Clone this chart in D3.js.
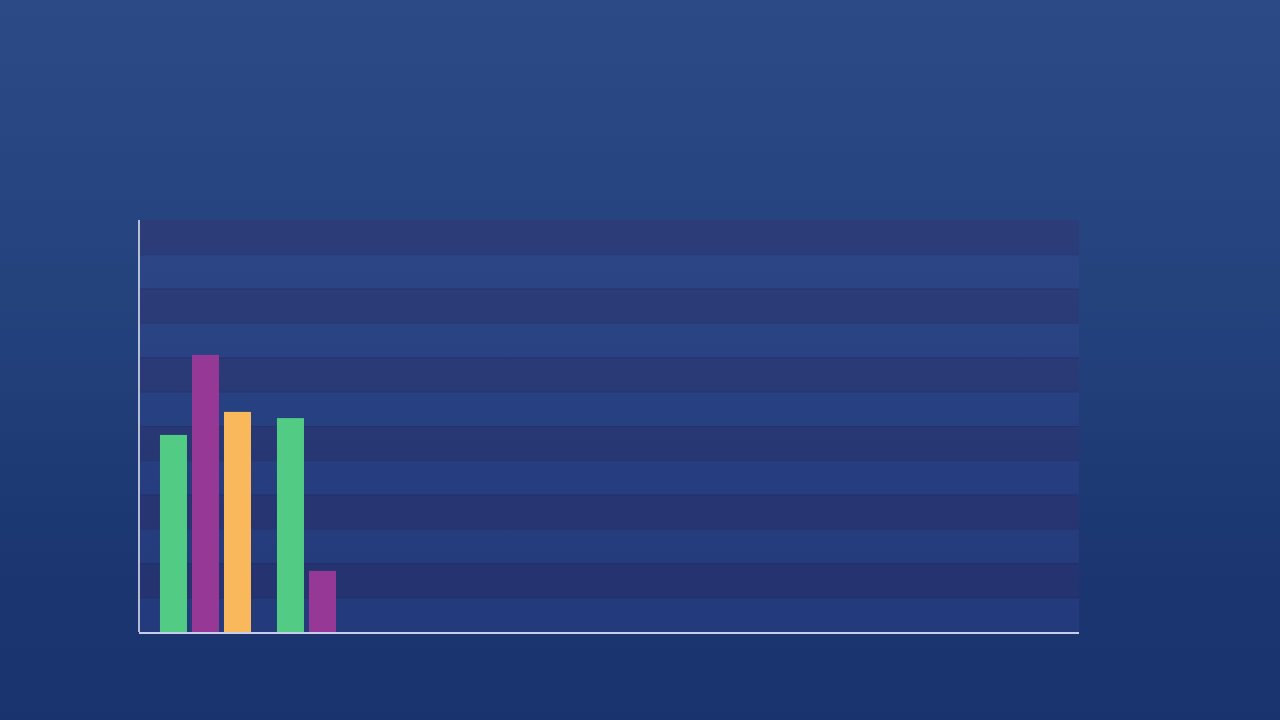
<!DOCTYPE html>
<html>
<head>
<meta charset="utf-8">
<script src="https://cdn.jsdelivr.net/npm/d3@7"></script>
<style>
    html, body { margin: 0; padding: 0; }
    body {
        width: 1280px;
        height: 720px;
        overflow: hidden;
        background: linear-gradient(to bottom, #2c4a85 0%, #24437d 40%, #1b3671 78%, #18336e 100%);
    }
</style>
</head>
<body>
<div id="chart"></div>
<script>
// groups along the x axis, only the first two have grown in so far
const groups = ["G1", "G2", "G3", "G4", "G5", "G6", "G7", "G8"]
const series = ["green", "purple", "orange"]
const greenValues = [57.4, 62.3, 0, 0, 0, 0, 0, 0]
const purpleValues = [80.7, 17.8, 0, 0, 0, 0, 0, 0]
const orangeValues = [64.1, 0, 0, 0, 0, 0, 0, 0]
const yTicks = [0, 10, 20, 30, 40, 50, 60, 70, 80, 90, 100, 110, 120]

const colours = { green: "#52cc85", purple: "#963896", orange: "#f9b85c" }

const width = 1280
const height = 720
const margin = { top: 220, right: 201, bottom: 88, left: 139 }

const svg = d3.select("#chart")
    .append("svg")
    .attr("width", width)
    .attr("height", height)

const x0 = d3.scaleBand()
    .domain(groups)
    .range([margin.left, width - margin.right])
    .paddingInner(0.222)
    .paddingOuter(0.128)
    .align(0.7)

const x1 = d3.scaleBand()
    .domain(series)
    .range([0, x0.bandwidth()])
    .paddingInner(0.156)

const y = d3.scaleLinear()
    .domain([0, 120])
    .range([height - margin.bottom, margin.top])

// alternating stripes
const bands = d3.pairs(yTicks)
svg.append("g")
    .selectAll("rect")
    .data(bands)
    .enter()
    .append("rect")
    .attr("x", margin.left)
    .attr("y", (d) => y(d[1]))
    .attr("width", width - margin.left - margin.right)
    .attr("height", (d) => y(d[0]) - y(d[1]))
    .attr("fill", (d, i) => (bands.length - 1 - i) % 2 === 0
        ? "rgba(54, 50, 112, 0.38)"
        : "rgba(56, 72, 150, 0.32)")

// faint separators
svg.append("g")
    .attr("transform", "translate(" + margin.left + ",0)")
    .call(d3.axisLeft(y).tickValues(yTicks.slice(1, -1))
        .tickSize(-(width - margin.left - margin.right))
        .tickFormat(""))
    .call((g) => g.select(".domain").remove())
    .call((g) => g.selectAll("line").attr("stroke", "rgba(30, 30, 70, 0.18)"))

const data = groups.map((g, i) => ({
    group: g,
    values: [
        { key: "green", value: greenValues[i] },
        { key: "purple", value: purpleValues[i] },
        { key: "orange", value: orangeValues[i] },
    ],
}))

svg.append("g")
    .selectAll("g")
    .data(data)
    .enter()
    .append("g")
    .attr("transform", (d) => "translate(" + x0(d.group) + ",0)")
    .selectAll("rect")
    .data((d) => d.values.filter((v) => v.value > 0))
    .enter()
    .append("rect")
    .attr("x", (d) => x1(d.key))
    .attr("y", (d) => y(d.value))
    .attr("width", x1.bandwidth())
    .attr("height", (d) => y(0) - y(d.value))
    .attr("fill", (d) => colours[d.key])

// axes lines
svg.append("line")
    .attr("x1", margin.left).attr("x2", margin.left)
    .attr("y1", margin.top).attr("y2", y(0))
    .attr("stroke", "#e6e8f5")
    .attr("stroke-width", 1.5)

svg.append("line")
    .attr("x1", margin.left).attr("x2", width - margin.right)
    .attr("y1", y(0) + 1).attr("y2", y(0) + 1)
    .attr("stroke", "#c9cce8")
    .attr("stroke-width", 2)
</script>
</body>
</html>
